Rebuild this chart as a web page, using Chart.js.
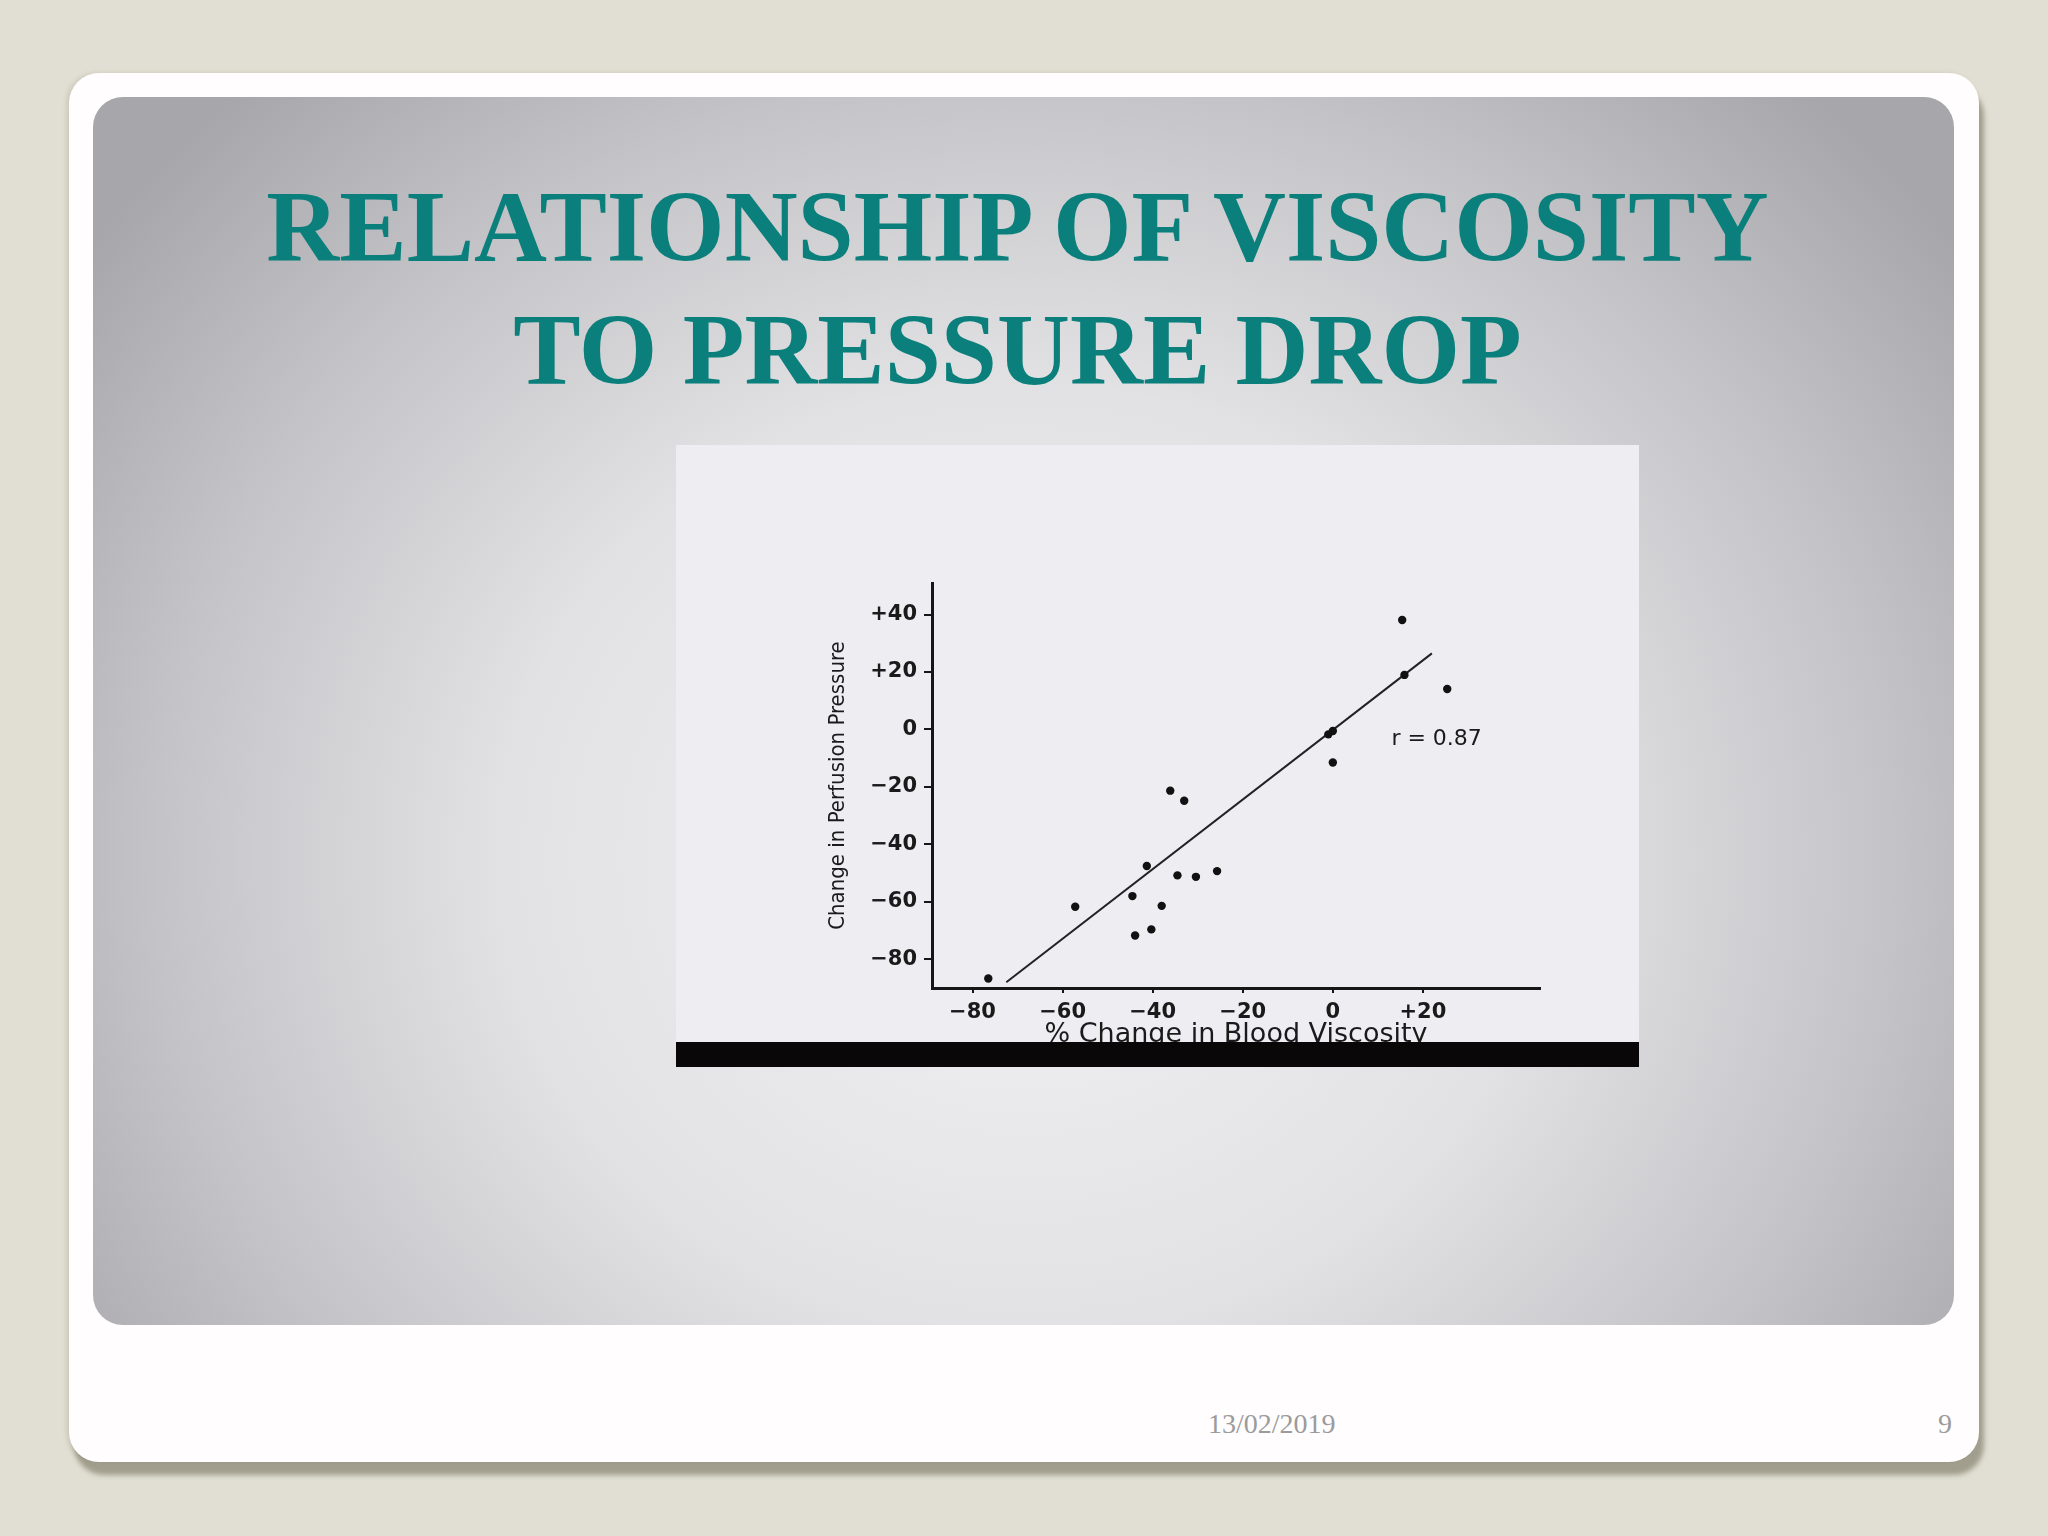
<!DOCTYPE html>
<html>
<head>
<meta charset="utf-8">
<script src="https://cdn.jsdelivr.net/npm/chart.js@4/dist/chart.umd.min.js"></script>
<style>
  html, body { margin: 0; padding: 0; }
  body { width: 2048px; height: 1536px; background: #e1dfd3; position: relative; overflow: hidden; }
  #card {
    position: absolute; left: 69px; top: 73px; width: 1910px; height: 1389px;
    background: #fffdfd; border-radius: 30px;
    box-shadow: 5px 13px 5px rgba(120, 115, 95, 0.6), -3px 0 4px rgba(150, 145, 125, 0.25);
  }
  #panel {
    position: absolute; left: 93px; top: 97px; width: 1861px; height: 1228px;
    border-radius: 30px;
    background: radial-gradient(ellipse 62% 85% at 50% 62%, #f2f1f4 0%, #e2e2e4 45%, #c4c3c7 75%, #a7a6aa 100%);
  }
  #title {
    position: absolute; left: 0; top: 166px; width: 2035px; text-align: center;
    font-family: "Liberation Serif", "Times New Roman", serif; font-weight: bold;
    font-size: 101px; line-height: 123px; color: #0b7f7b;
  }
  #imgbox { position: absolute; left: 676px; top: 445px; width: 963px; height: 622px; background: #eeedf2; }
  #wrap { position: absolute; left: 677px; top: 446px; width: 962px; height: 621px; }
  #bar { position: absolute; left: 676px; top: 1042px; width: 963px; height: 25px; background: #0a0709; }
  .foot {
    position: absolute; top: 1410px; line-height: 28px; font-size: 28px;
    font-family: "Liberation Serif", "Times New Roman", serif; color: #9b9b9b;
  }
</style>
</head>
<body>
<div id="card"></div>
<div id="panel"></div>
<div id="title">RELATIONSHIP OF VISCOSITY<br>TO PRESSURE DROP</div>
<div id="imgbox"></div>
<div id="wrap"><canvas id="chart" width="962" height="621"></canvas></div>
<div id="bar"></div>
<div class="foot" style="left:1208px">13/02/2019</div>
<div class="foot" style="left:1938px">9</div>

<script>
// % change in blood viscosity vs change in perfusion pressure
const viscosityChange = [-76.5, -57.2, -44.5, -43.9, -41.3, -40.3, -38.0, -36.1, -34.5, -33.0, -30.4, -25.7, -1.0, 0, 0, 15.4, 15.9, 25.4];
const pressureChange = [-86.7, -61.7, -58.0, -71.7, -47.5, -69.6, -61.4, -21.3, -50.8, -24.8, -51.3, -49.3, -1.7, -0.5, -11.5, 38.1, 19.0, 14.1];

// regression line end points
const fitX = [-72.5, 22];
const fitY = [-88, 26.5];

const xTicks = [-80, -60, -40, -20, 0, 20];
const yTicks = [-80, -60, -40, -20, 0, 20, 40];

const rLabel = "r = 0.87";

const points = viscosityChange.map((v, i) => ({ x: v, y: pressureChange[i] }));
const fitLine = fitX.map((v, i) => ({ x: v, y: fitY[i] }));

function fmt(v) {
  if (v > 0) return "+" + v;
  if (v < 0) return "\u2212" + Math.abs(v);
  return "0";
}

const rText = {
  id: "rText",
  afterDatasetsDraw(chart) {
    const ctx = chart.ctx;
    const x = chart.scales.x.getPixelForValue(13);
    const y = chart.scales.y.getPixelForValue(-3.5);
    ctx.save();
    ctx.font = "22px 'DejaVu Sans', sans-serif";
    ctx.fillStyle = "#1a1a1a";
    ctx.textBaseline = "middle";
    ctx.fillText(rLabel, x, y);
    ctx.restore();
  }
};

const inkColor = "#161616";
const labelFont = { family: "'DejaVu Sans', sans-serif", size: 21, weight: "bold" };

new Chart(document.getElementById("chart"), {
  type: "scatter",
  data: {
    datasets: [
      {
        label: "data",
        data: points,
        pointRadius: 4.2,
        pointBackgroundColor: "#111",
        pointBorderWidth: 0,
      },
      {
        label: "fit",
        data: fitLine,
        showLine: true,
        borderColor: "#222",
        borderWidth: 2,
        pointRadius: 0,
      },
    ],
  },
  options: {
    responsive: false,
    animation: false,
    devicePixelRatio: 1,
    layout: { padding: { left: 144, top: 137, right: 99, bottom: 0 } },
    plugins: { legend: { display: false }, tooltip: { enabled: false } },
    scales: {
      x: {
        type: "linear",
        min: -89,
        max: 46,
        afterBuildTicks: (s) => { s.ticks = xTicks.map((v) => ({ value: v })); },
        afterFit: (s) => { s.height = 79; },
        ticks: {
          callback: (v) => fmt(v),
          color: "#1a1a1a",
          padding: 7,
          font: labelFont,
        },
        grid: { drawOnChartArea: false, drawTicks: true, tickLength: 5, color: inkColor, lineWidth: 2 },
        border: { display: true, color: inkColor, width: 3 },
        title: {
          display: true,
          text: "% Change in Blood Viscosity",
          color: "#1a1a1a",
          padding: { top: 0, bottom: 16 },
          font: { family: "'DejaVu Sans', sans-serif", size: 27 },
        },
      },
      y: {
        type: "linear",
        min: -90,
        max: 51,
        afterBuildTicks: (s) => { s.ticks = yTicks.map((v) => ({ value: v })); },
        afterFit: (s) => { s.width = 111; },
        ticks: {
          callback: (v) => fmt(v),
          color: "#1a1a1a",
          padding: 7,
          font: labelFont,
        },
        grid: { drawOnChartArea: false, drawTicks: true, tickLength: 8, color: inkColor, lineWidth: 2 },
        border: { display: true, color: inkColor, width: 3 },
        title: {
          display: true,
          text: "Change in Perfusion Pressure",
          color: "#1a1a1a",
          padding: { top: 4, bottom: 4 },
          font: { family: "'Liberation Sans Narrow', 'DejaVu Sans Condensed', sans-serif", size: 22 },
        },
      },
    },
  },
  plugins: [rText],
});
</script>
</body>
</html>
